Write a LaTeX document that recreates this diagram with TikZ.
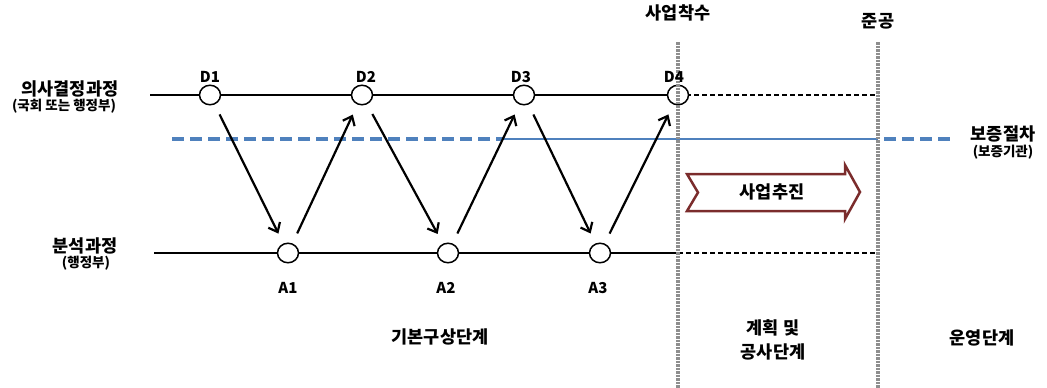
\documentclass[tikz,border=0pt]{standalone}
\usepackage{fontspec}
\setmainfont{Noto Sans CJK KR}
\usetikzlibrary{arrows.meta,shapes.geometric}
\definecolor{bluel}{HTML}{4F81BD}
\definecolor{vgray}{HTML}{8E8E8E}
\definecolor{darkred}{HTML}{7B2C2C}
\tikzset{
  pt/.style={ellipse, draw, line width=1.5pt, fill=white, minimum width=21pt, minimum height=19.5pt, inner sep=0pt},
  lbl/.style={font=\bfseries\fontsize{15}{15}\selectfont, inner sep=0pt},
  big/.style={font=\bfseries\fontsize{17.5}{17.5}\selectfont, inner sep=0pt},
  small/.style={font=\bfseries\fontsize{13.5}{13.5}\selectfont, inner sep=0pt},
  arr/.style={line width=2.2pt, -{Straight Barb[length=8pt,width=13pt]}, shorten <=11pt, shorten >=11pt},
  proc/.style={line width=2pt},
  ext/.style={line width=1.5pt, dash pattern=on 5pt off 3pt},
  vline/.style={vgray, line width=3.2pt, dash pattern=on 2.5pt off 1pt},
}
\begin{document}
\begin{tikzpicture}[x=1pt,y=-1pt]
\useasboundingbox (0,0) rectangle (1047,388);
% coordinates
\coordinate (Ls) at (150,95);
\coordinate (Bs) at (154,253);
\coordinate (Le) at (878,95);
\coordinate (Be) at (878,253);
\coordinate (V1t) at (678,42);
\coordinate (V1b) at (678,388);
\coordinate (V2t) at (878,42);
\coordinate (V2b) at (878,388);
\coordinate (Bl1) at (172,139);
\coordinate (Bl2) at (503,139);
\coordinate (Bl3) at (878,139);
\coordinate (Bl4) at (950,139);
% blue line
\draw[bluel, line width=3.2pt, dash pattern=on 12pt off 6pt] (Bl1) -- (Bl2);
\draw[bluel, line width=2pt] (Bl2) -- (Bl3);
\draw[bluel, line width=3.2pt, dash pattern=on 12pt off 6pt] ([xshift=6pt]Bl3) -- (Bl4);
% process lines
\draw[proc] (Ls) -- (678,95);
\draw[ext] (678,95) -- (Le);
\draw[proc] (Bs) -- (678,253);
\draw[ext] (678,253) -- (Be);
% nodes
\node[pt] (D1) at (210,95) {};
\node[pt] (D2) at (362,95) {};
\node[pt] (D3) at (524,95) {};
\node[pt] (D4) at (678,95) {};
\node[pt] (A1) at (288,253) {};
\node[pt] (A2) at (448,253) {};
\node[pt] (A3) at (600,253) {};
% vertical lines
\draw[vline] (V1t) -- (V1b);
\draw[vline] (V2t) -- (V2b);
% labels
\node[lbl] (tD1) at (210,77) {D1};
\node[lbl] (tD2) at (366,77) {D2};
\node[lbl] (tD3) at (521,77) {D3};
\node[lbl] (tD4) at (674,77) {D4};
\node[lbl] (tA1) at (288,288) {A1};
\node[lbl] (tA2) at (446,288) {A2};
\node[lbl] (tA3) at (598,288) {A3};
% arrows
\draw[arr] (D1) -- (A1);
\draw[arr] (A1) -- (D2);
\draw[arr] (D2) -- (A2);
\draw[arr] (A2) -- (D3);
\draw[arr] (D3) -- (A3);
\draw[arr] (A3) -- (D4);
% left labels
\node[big] (dec) at (70,89) {의사결정과정};
\node[small] (decs) at (64,106) {(국회 또는 행정부)};
\node[big] (ana) at (85,246) {분석과정};
\node[small] (anas) at (86,263) {(행정부)};
% right labels
\node[big] (gua) at (1003,134) {보증절차};
\node[small] (guas) at (1003,152) {(보증기관)};
\node[big] (start) at (678,13) {사업착수};
\node[big] (done) at (878,21) {준공};
% big arrow
\draw[darkred, line width=2.5pt, line join=miter, fill=white] (687,174) -- (845,174) -- (845,165) -- (860,192) -- (845,219) -- (845,211) -- (687,211) -- (698,192.5) -- cycle;
\node[big] (push) at (772,192) {사업추진};
% bottom labels
\node[big] (ph1) at (440,337) {기본구상단계};
\node[big] (ph2a) at (773,328) {계획 및};
\node[big] (ph2b) at (773,352) {공사단계};
\node[big] (ph3) at (982,338) {운영단계};
\end{tikzpicture}
\end{document}
